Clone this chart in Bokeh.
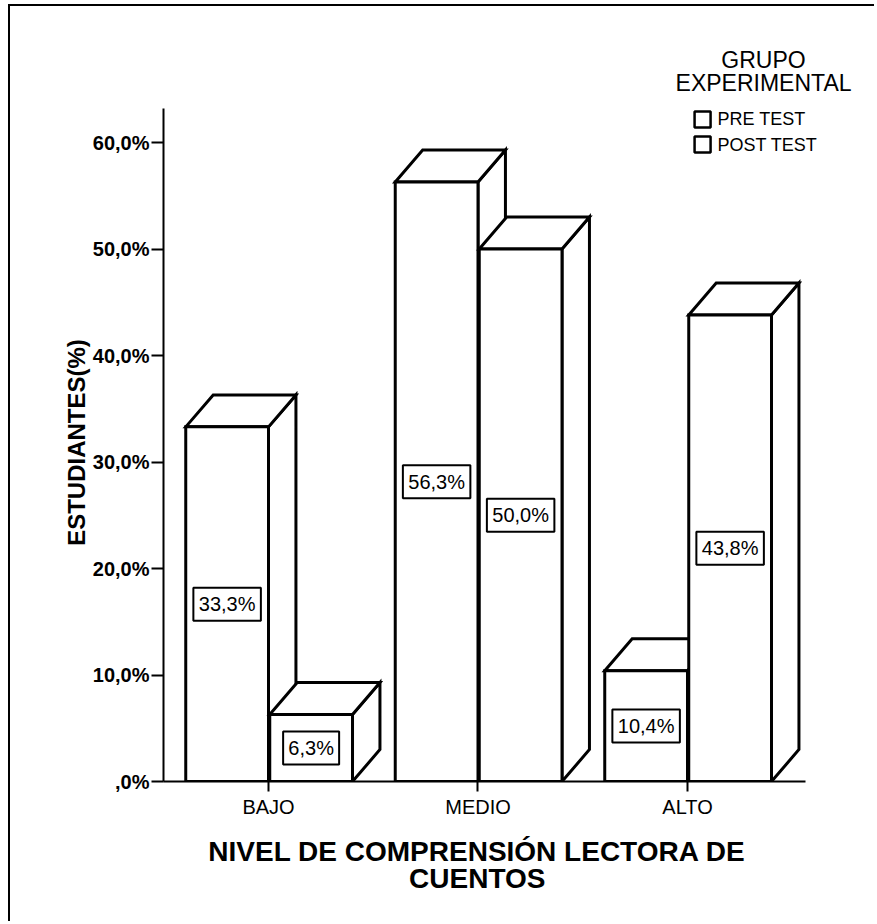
from bokeh.plotting import figure
from bokeh.models import Range1d, FixedTicker, Title
from bokeh.embed import file_html
from bokeh.resources import INLINE
from bokeh.core.properties import value

# ---------------- data ----------------
categories = ["BAJO", "MEDIO", "ALTO"]
pre_test = [33.3, 56.3, 10.4]
post_test = [6.3, 50.0, 43.8]
pre_labels = ["33,3%", "56,3%", "10,4%"]
post_labels = ["6,3%", "50,0%", "43,8%"]
y_ticks = [0, 10, 20, 30, 40, 50, 60]
y_tick_labels = [",0%", "10,0%", "20,0%", "30,0%", "40,0%", "50,0%", "60,0%"]
series_names = ["PRE TEST", "POST TEST"]
legend_title = ["GRUPO", "EXPERIMENTAL"]
x_title = ["NIVEL DE COMPRENSIÓN LECTORA DE", "CUENTOS"]
y_title = "ESTUDIANTES(%)"

# ---------------- style / geometry ----------------
FONT = "Liberation Sans"
BAR_W = 0.395     # front face width (category units)
POST_GAP = 0.006
DX = 0.131        # 3D depth, horizontal (category units)
DY = 3.0          # 3D depth, vertical (percent units)
LW = 3
X_START, X_END = -0.5012, 2.864
Y_END = 72.77
X_AXIS_END = 2.563
Y_AXIS_TOP = 63.19

p = figure(width=866, height=917, output_backend="svg", toolbar_location=None,
           x_range=Range1d(X_START, X_END), y_range=Range1d(0, Y_END),
           min_border_left=153, min_border_right=8, min_border_top=0,
           min_border_bottom=142)
p.styles = {"border-left": "2px solid black", "border-top": "2px solid black",
            "margin-left": "8px", "margin-top": "4px"}
p.outline_line_color = None
p.grid.visible = False
p.background_fill_color = "white"
p.border_fill_color = "white"

# ---------------- axes ----------------
xa = p.xaxis[0]
xa.ticker = FixedTicker(ticks=list(range(len(categories))))
xa.major_label_overrides = {i: c for i, c in enumerate(categories)}
xa.bounds = (X_START, X_AXIS_END)
xa.axis_line_width = 2
xa.axis_line_color = "black"
xa.major_tick_line_width = 2
xa.major_tick_line_color = "black"
xa.major_tick_out = 10
xa.major_tick_in = 0
xa.minor_tick_line_color = None
xa.major_label_text_font = FONT
xa.major_label_text_font_size = "20px"
xa.major_label_text_color = "black"
xa.major_label_standoff = 4

ya = p.yaxis[0]
ya.ticker = FixedTicker(ticks=y_ticks)
ya.major_label_overrides = {t: l for t, l in zip(y_ticks, y_tick_labels)}
ya.bounds = (0, Y_AXIS_TOP)
ya.axis_line_width = 2
ya.axis_line_color = "black"
ya.major_tick_line_width = 2
ya.major_tick_line_color = "black"
ya.major_tick_out = 12
ya.major_tick_in = 0
ya.minor_tick_line_color = None
ya.major_label_text_font = FONT
ya.major_label_text_font_size = "20px"
ya.major_label_text_font_style = "bold"
ya.major_label_text_color = "black"
ya.major_label_standoff = 2

# axis titles (Title objects in the side panels)
X_TITLE_CENTER = 477   # px (page)
FRAME_LEFT = 163       # px (page)
bold_w = {"N": .722, "I": .278, "V": .667, "E": .667, "L": .611, " ": .278,
          "D": .722, "C": .722, "O": .778, "M": .833, "P": .667, "R": .722,
          "S": .667, "Ó": .778, "T": .611, "A": .722, "U": .722, "(": .333,
          "%": .889, ")": .333}


def text_w(t, size):
    return sum(bold_w.get(ch, .7) for ch in t) * size


for txt, so, va in zip(x_title, [26, -34], ["bottom", "top"]):
    w = text_w(txt, 28)
    p.add_layout(Title(text=txt, align="left", vertical_align=va,
                       offset=X_TITLE_CENTER - w / 2 - FRAME_LEFT,
                       standoff=so, text_font=FONT, text_font_size="28px",
                       text_font_style="bold", text_color="black"), "below")

Y_TITLE_CENTER = 442   # px (page)
FRAME_BOTTOM = 781     # px (page)
yw = text_w(y_title, 24)
p.add_layout(Title(text=y_title, align="left",
                   offset=FRAME_BOTTOM - (Y_TITLE_CENTER + yw / 2),
                   standoff=0, text_font=FONT, text_font_size="24px",
                   text_font_style="bold", text_color="black"), "left")


# ---------------- 3D bars ----------------
def draw(vals, offset):
    lefts = [i + offset for i in range(len(vals))]
    rights = [l + BAR_W for l in lefts]
    tx = [[l, l + DX, r + DX, r] for l, r in zip(lefts, rights)]
    ty = [[v, v + DY, v + DY, v] for v in vals]
    sx = [[r, r + DX, r + DX, r] for r in rights]
    sy = [[0, DY, v + DY, v] for v in vals]
    style = dict(fill_color="white", line_color="black", line_width=LW,
                 line_join="miter")
    p.patches(sx, sy, **style)
    p.patches(tx, ty, **style)
    p.quad(left=lefts, right=rights, bottom=[0] * len(vals), top=vals, **style)
    return [(l + r) / 2 for l, r in zip(lefts, rights)]


def labels(xc, vals, texts):
    ys = [v / 2 for v in vals]
    widths = [11.5 * len(t) + 10 for t in texts]
    p.rect(x=xc, y=ys, width=widths, height=[33] * len(vals),
           width_units="screen", height_units="screen",
           fill_color="white", line_color="black", line_width=2)
    p.text(x=xc, y=ys, text=texts, text_align="center", text_baseline="middle",
           text_font=value(FONT), text_font_size="20px", text_color="black")


pre_xc = draw(pre_test, -BAR_W)
post_xc = draw(post_test, POST_GAP)
labels(pre_xc, pre_test, pre_labels)
labels(post_xc, post_test, post_labels)

# ---------------- legend ----------------
p.text(x=[2.363, 2.363], y=[67.79, 65.63], text=legend_title, text_align="center",
       text_baseline="middle", text_font=value(FONT), text_font_size="23px",
       text_color="black")
p.rect(x=[2.072, 2.072], y=[62.16, 59.81], width=[16, 16], height=[16, 16],
       width_units="screen", height_units="screen",
       fill_color="white", line_color="black", line_width=2.5)
p.text(x=[2.143, 2.143], y=[62.16, 59.81], text=series_names, text_align="left",
       text_baseline="middle", text_font=value(FONT), text_font_size="18px",
       text_color="black")

open("out.html", "w").write(file_html(p, INLINE))
